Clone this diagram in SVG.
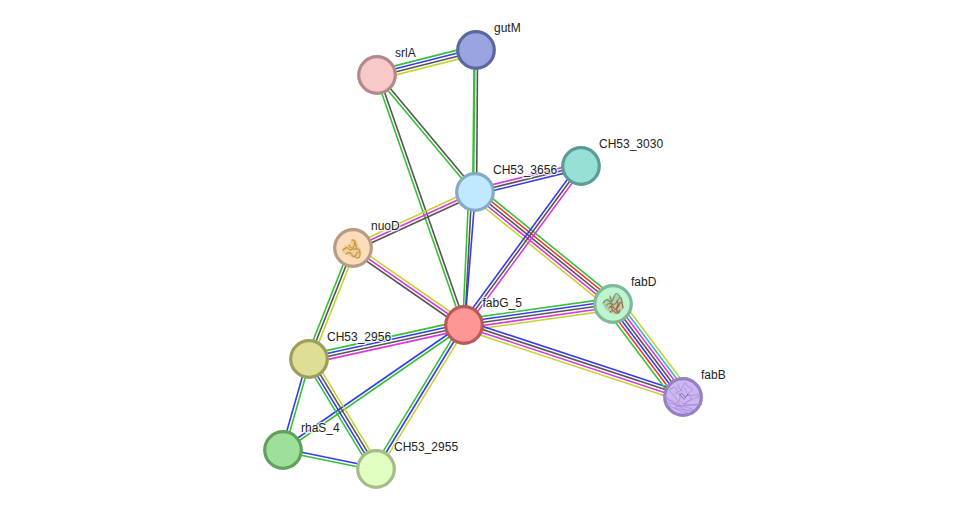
<svg xmlns="http://www.w3.org/2000/svg" width="975" height="514" viewBox="0 0 975 514">
<style>
  #edges line { stroke-width: 1.6; fill: none; }
  .g { stroke: #35c235; }
  .b { stroke: #3a3af0; }
  .k { stroke: #555555; }
  .y { stroke: #c3d433; }
  .m { stroke: #d93ad9; }
  .r { stroke: #ee3a3a; }
  .c { stroke: #3ab4dc; }
  .n { stroke-width: 3.2; }
  text { font-family: "Liberation Sans", Arial, sans-serif; font-size: 12px; fill: #222222; stroke: #ffffff; stroke-width: 2.5px; stroke-opacity: .8; paint-order: stroke; stroke-linejoin: round; }
  .fold { fill: none; stroke-linecap: round; stroke-linejoin: round; }
</style>
<rect width="975" height="514" fill="#ffffff"/>
<g id="edges">
  <g id="srlA-gutM">
    <line class="g" x1="375.9" y1="70.6" x2="474.9" y2="45.6"/>
    <line class="b" x1="376.6" y1="73.5" x2="475.6" y2="48.5"/>
    <line class="k" x1="377.4" y1="76.5" x2="476.4" y2="51.5"/>
    <line class="y" x1="378.1" y1="79.4" x2="477.1" y2="54.4"/>
  </g>
  <g id="srlA-CH53_3656">
    <line class="k" x1="378.15" y1="74.04" x2="476.15" y2="191.04"/>
    <line class="g" x1="375.85" y1="75.96" x2="473.85" y2="192.96"/>
  </g>
  <g id="srlA-fabG_5">
    <line class="k" x1="378.4" y1="74.5" x2="465.4" y2="324.5"/>
    <line class="g" x1="375.6" y1="75.5" x2="462.6" y2="325.5"/>
  </g>
  <g id="gutM-CH53_3656">
    <line class="g" x1="475" y1="50" x2="473.5" y2="192"/>
    <line class="g" x1="474.2" y1="50" x2="472.7" y2="192"/>
    <line class="k" x1="477.6" y1="50" x2="476.6" y2="192"/>
  </g>
  <g id="CH53_3656-fabG_5">
    <line class="g" x1="468.8" y1="192" x2="462.7" y2="325"/>
    <line class="k" x1="471.7" y1="192" x2="464.8" y2="325"/>
    <line class="b" x1="475.4" y1="192" x2="464.8" y2="325"/>
  </g>
  <g id="CH53_3656-CH53_3030">
    <line class="m" x1="474.3" y1="189.1" x2="580.3" y2="163.1"/>
    <line class="k" x1="475" y1="192" x2="581" y2="166"/>
    <line class="b" x1="475.7" y1="194.9" x2="581.7" y2="168.9"/>
  </g>
  <g id="CH53_3656-nuoD">
    <line class="y" x1="473.75" y1="189.27" x2="351.75" y2="245.27"/>
    <line class="m" x1="475" y1="192" x2="353" y2="248"/>
    <line class="k" x1="476.25" y1="194.73" x2="354.25" y2="250.73"/>
  </g>
  <g id="CH53_3656-fabD">
    <line class="g" x1="478.8" y1="187.3" x2="616.8" y2="299.3"/>
    <line class="r" x1="476.9" y1="189.7" x2="614.9" y2="301.7"/>
    <line class="k" x1="475" y1="192" x2="613" y2="304"/>
    <line class="m" x1="473.1" y1="194.3" x2="611.1" y2="306.3"/>
    <line class="y" x1="471.2" y1="196.7" x2="609.2" y2="308.7"/>
  </g>
  <g id="CH53_3030-fabG_5">
    <line class="b" x1="578.6" y1="164.2" x2="461.6" y2="323.2"/>
    <line class="k" x1="581" y1="166" x2="464" y2="325"/>
    <line class="m" x1="583.4" y1="167.8" x2="466.4" y2="326.8"/>
  </g>
  <g id="nuoD-fabG_5">
    <line class="y" x1="354.7" y1="245.5" x2="465.7" y2="322.5"/>
    <line class="m" x1="353" y1="248" x2="464" y2="325"/>
    <line class="k" x1="351.3" y1="250.5" x2="462.3" y2="327.5"/>
  </g>
  <g id="nuoD-CH53_2956">
    <line class="g" x1="350.2" y1="246.9" x2="306.2" y2="357.9"/>
    <line class="k" x1="353" y1="248" x2="309" y2="359"/>
    <line class="y" x1="355.8" y1="249.1" x2="311.8" y2="360.1"/>
  </g>
  <g id="fabG_5-fabD">
    <line class="g" x1="463.2" y1="319.1" x2="612.2" y2="298.1"/>
    <line class="b" x1="463.6" y1="322" x2="612.6" y2="301"/>
    <line class="k" x1="464" y1="325" x2="613" y2="304"/>
    <line class="m" x1="464.4" y1="328" x2="613.4" y2="307"/>
    <line class="y" x1="464.8" y1="330.9" x2="613.8" y2="309.9"/>
  </g>
  <g id="fabG_5-fabB">
    <line class="b" x1="465.4" y1="320.7" x2="684.4" y2="392.7"/>
    <line class="k" x1="464.5" y1="323.6" x2="683.5" y2="395.6"/>
    <line class="m" x1="463.5" y1="326.4" x2="682.5" y2="398.4"/>
    <line class="y" x1="462.6" y1="329.3" x2="681.6" y2="401.3"/>
  </g>
  <g id="fabD-fabB">
    <line class="g" x1="605.8" y1="309.4" x2="675.8" y2="402.4"/>
    <line class="r" x1="608.2" y1="307.6" x2="678.2" y2="400.6"/>
    <line class="b" x1="610.6" y1="305.8" x2="680.6" y2="398.8"/>
    <line class="k" x1="613" y1="304" x2="683" y2="397"/>
    <line class="m" x1="615.4" y1="302.2" x2="685.4" y2="395.2"/>
    <line class="c" x1="617.8" y1="300.4" x2="687.8" y2="393.4"/>
    <line class="y" x1="620.2" y1="298.6" x2="690.2" y2="391.6"/>
  </g>
  <g id="fabG_5-CH53_2956">
    <line class="g" x1="463" y1="320.6" x2="308" y2="354.6"/>
    <line class="b" x1="463.7" y1="323.5" x2="308.7" y2="357.5"/>
    <line class="k" x1="464.3" y1="326.5" x2="309.3" y2="360.5"/>
    <line class="m" x1="465" y1="329.4" x2="310" y2="363.4"/>
  </g>
  <g id="fabG_5-rhaS_4">
    <line class="b" x1="463.15" y1="323.77" x2="282.15" y2="448.77"/>
    <line class="g" x1="464.85" y1="326.23" x2="283.85" y2="451.23"/>
  </g>
  <g id="fabG_5-CH53_2955">
    <line class="g" x1="461.4" y1="323.4" x2="373.4" y2="467.4"/>
    <line class="b" x1="464" y1="325" x2="376" y2="469"/>
    <line class="y" x1="466.6" y1="326.6" x2="378.6" y2="470.6"/>
  </g>
  <g id="CH53_2956-rhaS_4">
    <line class="b" x1="307.56" y1="358.59" x2="281.56" y2="449.59"/>
    <line class="g" x1="310.44" y1="359.41" x2="284.44" y2="450.41"/>
  </g>
  <g id="CH53_2956-CH53_2955">
    <line class="g" x1="305.2" y1="361.3" x2="372.2" y2="471.3"/>
    <line class="b" x1="307.7" y1="359.8" x2="374.7" y2="469.8"/>
    <line class="k" x1="310.3" y1="358.2" x2="377.3" y2="468.2"/>
    <line class="y" x1="312.8" y1="356.7" x2="379.8" y2="466.7"/>
  </g>
  <g id="rhaS_4-CH53_2955">
    <line class="b" x1="283.3" y1="448.5" x2="376.3" y2="467.5"/>
    <line class="g" x1="282.7" y1="451.5" x2="375.7" y2="470.5"/>
  </g>
</g>
<g id="node-srlA">
  <circle class="n" cx="377" cy="75" r="18.3" fill="#f9c8c8" stroke="#b38a8a"/>
  <text x="395" y="57">srlA</text>
</g>
<g id="node-gutM">
  <circle class="n" cx="476" cy="50" r="18.3" fill="#9aa5e0" stroke="#5a67a0"/>
  <text x="494" y="32">gutM</text>
</g>
<g id="node-CH53_3030">
  <circle class="n" cx="581" cy="166" r="18.3" fill="#96e0d6" stroke="#5a9c96"/>
  <text x="599" y="148">CH53_3030</text>
</g>
<g id="node-CH53_3656">
  <circle class="n" cx="475" cy="192" r="18.3" fill="#c0e8ff" stroke="#84aac4"/>
  <text x="493" y="174">CH53_3656</text>
</g>
<g id="node-nuoD">
  <circle class="n" cx="353" cy="248" r="18.3" fill="#fbdcbc" stroke="#b89c80"/>
  <!-- ribbon fold of the structure, golden -->
  <path d="M342 250Q344 244 349 245Q350 239 355 239Q359 242 358 246Q363 249 361 255Q358 259 354 258Q349 257 346 254Q343 254 342 250Z" fill="#e8c68c" opacity=".7"/>
  <path class="fold" stroke="#c9973c" stroke-width="1.3" d="M343 250Q347 246 349 249T354 246T352 240M349 245Q352 250 356 249T360 254T355 257M346 254Q350 251 352 255T358 252M354 243Q357 245 356 249"/>
  <text x="371" y="230">nuoD</text>
</g>
<g id="node-fabD">
  <circle class="n" cx="613" cy="304" r="18.3" fill="#bcf5cf" stroke="#80b898"/>
  <!-- ribbon fold of the structure, olive and brown -->
  <path d="M603 303Q606 297 611 298Q615 293 620 296Q624 300 623 305Q624 311 618 314Q612 315 608 311Q603 308 603 303Z" fill="#a5b290" opacity=".55"/>
  <path class="fold" stroke="#7f8a68" stroke-width="1.1" d="M603 303Q606 298 609 301T614 297T620 297M606 306Q609 302 612 304T618 300T622 302M610 296Q612 300 610 304"/>
  <path class="fold" stroke="#a9623f" stroke-width="1.2" d="M609 308Q612 304 614 308T619 305T623 308M610 312Q613 309 615 312T620 310M617 301Q619 304 617 307T619 313M612 304Q611 308 613 311"/>
  <text x="631" y="286">fabD</text>
</g>
<g id="node-fabG_5">
  <circle class="n" cx="464" cy="325" r="18.3" fill="#ff9696" stroke="#b85a5a"/>
  <text x="482.5" y="307">fabG_5</text>
</g>
<g id="node-CH53_2956">
  <circle class="n" cx="309" cy="359" r="18.3" fill="#dede96" stroke="#9e9e5c"/>
  <text x="327" y="341">CH53_2956</text>
</g>
<g id="node-fabB">
  <circle class="n" cx="683" cy="397" r="18.3" fill="#ccb8f0" stroke="#9680c4"/>
  <!-- thin backbone trace of the structure -->
  <path class="fold" stroke="#a88ad8" stroke-width=".8" d="M671 389Q675 385 677 390T682 388T686 384T691 388T689 393T695 395T691 400T694 405T688 405T686 410T681 406T676 409T675 403T670 401T674 396T671 389M675 393Q680 392 680 397T676 403M685 388Q686 393 690 396T686 402M678 385Q679 390 683 391M681 402Q684 405 687 404"/>
  <path class="fold" stroke="#8d6fc8" stroke-width="1" d="M680 394Q683 393 684 396T688 394L684 399Z"/>
  <text x="701" y="379">fabB</text>
</g>
<g id="node-rhaS_4">
  <circle class="n" cx="283" cy="450" r="18.3" fill="#9ee09a" stroke="#62a05e"/>
  <text x="301" y="432">rhaS_4</text>
</g>
<g id="node-CH53_2955">
  <circle class="n" cx="376" cy="469" r="18.3" fill="#e2ffc2" stroke="#a4bc88"/>
  <text x="394" y="451">CH53_2955</text>
</g>
</svg>
